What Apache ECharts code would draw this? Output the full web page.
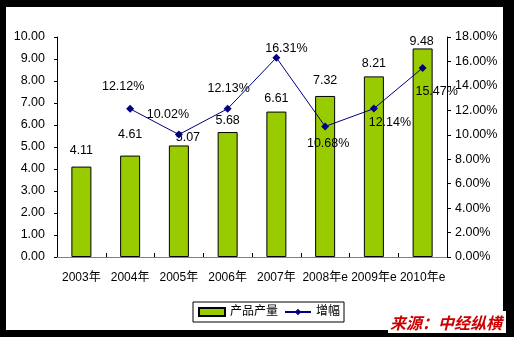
<!DOCTYPE html>
<html>
<head>
<meta charset="utf-8">
<script src="https://cdn.jsdelivr.net/npm/echarts@6/dist/echarts.min.js"></script>
<style>
  html, body { margin: 0; padding: 0; background: #000; }
  #chart { width: 514px; height: 337px; }
</style>
</head>
<body>
<div id="chart"></div>
<script>
// Categories and values
const years = ['2003年', '2004年', '2005年', '2006年', '2007年', '2008年e', '2009年e', '2010年e'];
const output = [4.11, 4.61, 5.07, 5.68, 6.61, 7.32, 8.21, 9.48];      // 产品产量
const growth = [null, 12.12, 10.02, 12.13, 16.31, 10.68, 12.14, 15.47]; // 增幅 (%)

// Axis ranges
const outputAxis = { min: 0, max: 10, interval: 1 };
const growthAxis = { min: 0, max: 18, interval: 2 };

// Label nudges so the value texts do not collide
const barLabelOffsets = [[0, -5], [0, -9.5], [9, 3.5], [0, 0], [0, -1.5], [0, -4.5], [0, -1.5], [-1, 4.5]];
const lineLabelOffsets = [[0, 0], [-7, -22], [-11, -20], [1, -20], [10, -9], [3, 17], [16, 14], [14, 24]];

const FONT = "'Liberation Sans', 'Noto Sans CJK SC', sans-serif";

const chart = echarts.init(document.getElementById('chart'));

chart.setOption({
  backgroundColor: '#000',
  animation: false,
  textStyle: { fontFamily: FONT },
  graphic: [
    { type: 'rect', z: -10, shape: { x: 6, y: 7, width: 497, height: 323 }, style: { fill: '#fff' } },
    { type: 'rect', z: -10, shape: { x: 388, y: 311, width: 118, height: 22 }, style: { fill: '#fff' } },
    {
      type: 'text', left: 390, top: 315, z: 10,
      style: {
        text: '来源：中经纵横',
        fill: '#cc0000',
        font: "italic bold 16px 'Noto Sans CJK SC', sans-serif"
      }
    }
  ],
  grid: { left: 57, right: 67, top: 37, bottom: 80 },
  legend: {
    left: 193, top: 302,
    orient: 'horizontal',
    padding: [4, 4, 4, 5],
    itemGap: 6,
    itemWidth: 26,
    itemHeight: 8,
    borderColor: '#000',
    borderWidth: 1,
    backgroundColor: '#fff',
    textStyle: { fontSize: 12, color: '#000', fontFamily: FONT },
    data: [
      { name: '产品产量', icon: 'rect' },
      { name: '增幅' }
    ]
  },
  xAxis: [
    {
      type: 'category',
      data: years,
      position: 'bottom',
      axisLine: { lineStyle: { color: '#000', width: 1 } },
      axisTick: { show: true, inside: true, length: 4, lineStyle: { color: '#000' } },
      axisLabel: { color: '#000', fontSize: 12, margin: 15, interval: 0 }
    },
    {
      type: 'category',
      data: years,
      position: 'top',
      axisLine: { show: true, lineStyle: { color: '#808080', width: 1 } },
      axisTick: { show: false },
      axisLabel: { show: false }
    }
  ],
  yAxis: [
    {
      type: 'value',
      min: outputAxis.min, max: outputAxis.max, interval: outputAxis.interval,
      position: 'left',
      axisLine: { show: true, lineStyle: { color: '#000' } },
      axisTick: { show: true, length: 3, lineStyle: { color: '#000' } },
      splitLine: { show: false },
      axisLabel: { color: '#000', fontSize: 12.5, margin: 12, formatter: v => v.toFixed(2) }
    },
    {
      type: 'value',
      min: growthAxis.min, max: growthAxis.max, interval: growthAxis.interval,
      position: 'right',
      axisLine: { show: true, lineStyle: { color: '#000' } },
      axisTick: { show: true, length: 4, lineStyle: { color: '#000' } },
      splitLine: { show: false },
      axisLabel: { color: '#000', fontSize: 12.5, margin: 8, formatter: v => v.toFixed(2) + '%' }
    }
  ],
  series: [
    {
      name: '产品产量',
      type: 'bar',
      xAxisIndex: 0,
      yAxisIndex: 0,
      barWidth: 20,
      itemStyle: { color: '#99cc00', borderColor: '#000', borderWidth: 1 },
      data: output.map((v, i) => ({
        value: v,
        label: { offset: barLabelOffsets[i] }
      })),
      label: {
        show: true,
        position: 'top',
        distance: 5,
        color: '#000',
        fontSize: 12.5,
        formatter: p => p.value.toFixed(2)
      }
    },
    {
      name: '增幅',
      type: 'line',
      xAxisIndex: 0,
      yAxisIndex: 1,
      symbol: 'diamond',
      symbolSize: 8,
      lineStyle: { color: '#000080', width: 1 },
      itemStyle: { color: '#000080' },
      data: growth.map((v, i) => ({
        value: v,
        label: { offset: lineLabelOffsets[i] }
      })),
      label: {
        show: true,
        position: 'inside',
        color: '#000',
        fontSize: 12.5,
        formatter: p => (p.value == null ? '' : p.value.toFixed(2) + '%')
      },
      z: 5
    }
  ]
});
</script>
</body>
</html>
